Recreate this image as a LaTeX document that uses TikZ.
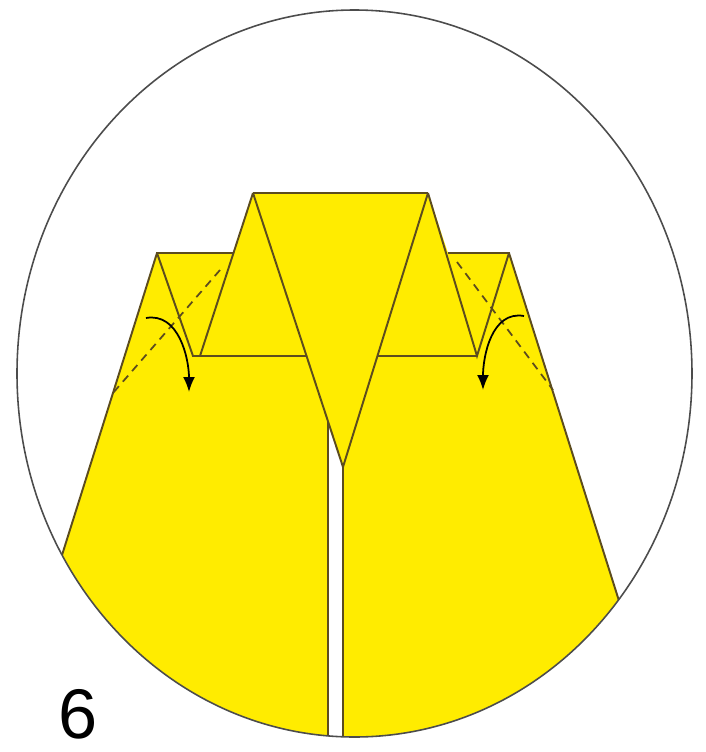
\documentclass[tikz,border=0pt]{standalone}
\usepackage{fontspec}
\setmainfont{Liberation Sans}
\usetikzlibrary{arrows.meta}

\definecolor{paper}{RGB}{255,236,0}
\definecolor{crease}{RGB}{92,76,30}

\begin{document}
\begin{tikzpicture}[x=0.1mm,y=-0.1mm,
    edge/.style={draw=crease,line width=0.55pt,line join=miter},
    valley/.style={draw=crease,line width=0.5pt,dash pattern=on 0.8mm off 0.6mm},
    turn/.style={draw=black,line width=0.5pt,-{Latex[length=1.5mm,width=1.2mm]}}]
  \useasboundingbox (0,0) rectangle (706,752);

  % corners of the model
  \coordinate (flapL) at (157,253);
  \coordinate (flapLin) at (233,253);
  \coordinate (apexL) at (253,193);
  \coordinate (apexR) at (428,193);
  \coordinate (flapRin) at (448,253);
  \coordinate (flapR) at (509,253);
  \coordinate (footL) at (-15,800);
  \coordinate (footR) at (682,800);
  \coordinate (vL) at (193,356);
  \coordinate (hL) at (307,356);
  \coordinate (sL) at (200,356);
  \coordinate (vR) at (477,356);
  \coordinate (hR) at (377,356);
  \coordinate (tip) at (343,467);
  \coordinate (slitTop) at (328,422);
  \coordinate (slitL) at (328,800);
  \coordinate (slitR) at (343,800);

  \begin{scope}
    \clip (354.5,373.5) ellipse [x radius=337.5,y radius=363.5];
    \fill[paper] (flapL) -- (flapLin) -- (apexL) -- (apexR) -- (flapRin) -- (flapR)
      -- (footR) -- (slitR) -- (tip) -- (slitTop) -- (slitL) -- (footL) -- cycle;
    \path[edge] (footL) -- (flapL) -- (flapLin);
    \path[edge] (flapRin) -- (flapR) -- (footR);
    \path[edge] (apexL) -- (apexR);
    \path[edge] (flapL) -- (vL) -- (hL);
    \path[edge] (apexL) -- (sL);
    \path[edge] (apexL) -- (tip) -- (apexR);
    \path[edge] (apexR) -- (vR) -- (flapR);
    \path[edge] (hR) -- (vR);
    \path[edge] (slitTop) -- (slitL);
    \path[edge] (tip) -- (slitR);
  \end{scope}

  % outline of the step
  \draw[color=black!70,line width=0.45pt] (354.5,373.5) ellipse [x radius=337.5,y radius=363.5];

  % fold the small flaps behind
  \coordinate (dashLa) at (220,270);
  \coordinate (dashLb) at (113,393);
  \coordinate (dashRa) at (457,262);
  \coordinate (dashRb) at (553,390);
  \path[valley] (dashLa) -- (dashLb);
  \path[valley] (dashRa) -- (dashRb);

  \coordinate (arrLa) at (146,318);
  \coordinate (arrLb) at (189,392);
  \coordinate (arrRa) at (524,316);
  \coordinate (arrRb) at (483,390);
  \draw[turn] (arrLa) to[out=10,in=90] (arrLb);
  \draw[turn] (arrRa) to[out=170,in=90] (arrRb);

  \node[font=\fontsize{20}{20}\selectfont,inner sep=0pt] (stepno) at (78,714) {6};
\end{tikzpicture}
\end{document}
